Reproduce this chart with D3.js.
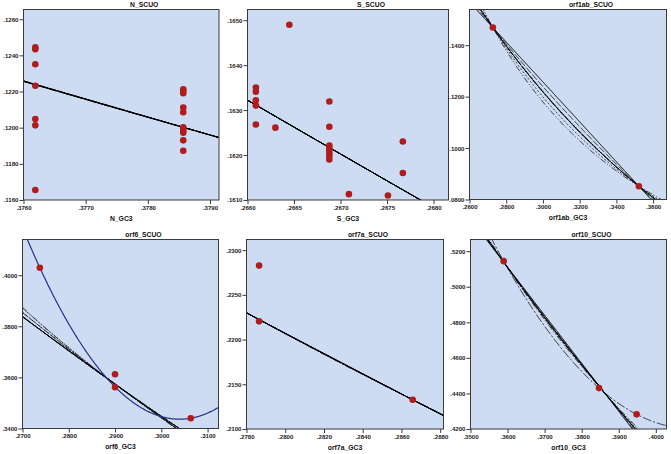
<!DOCTYPE html>
<html><head><meta charset="utf-8">
<script src="https://cdn.jsdelivr.net/npm/d3@7"></script>
<style>body{margin:0;background:#fff}svg{display:block}</style>
</head><body><svg id="c" width="671" height="454"></svg>
<script>
// ---------------- data (n = number of coinciding cases) ----------------
const N_GC3   = [.37619,.37619,.37619,.37619,.37619,.37619,.37619,
                 .37857,.37857,.37857,.37857,.37857,.37857,.37857,.37857,.37857,.37857,.37857];
const N_SCUO  = [.12444,.12434,.12351,.12232,.12048,.12013,.11655,
                 .12212,.12204,.12191,.12112,.12085,.12002,.11992,.11981,.11972,.11930,.11872];
const N_n     = [2,2,2,2,1,1,1, 1,1,1,1,1,3,3,3,3,3,3];

const S_GC3   = [.26609,.26609,.26609,.26609,.26609,.26630,.26645,
                 .26688,.26688,.26688,.26688,.26688,.26688,.26688,.26688,
                 .26709,.26751,.26767,.26767];
const S_SCUO  = [.16350,.16341,.16322,.16310,.16268,.16261,.16490,
                 .16319,.16263,.16221,.16215,.16210,.16204,.16198,.16190,
                 .16113,.16110,.16230,.16160];
const S_n     = [1,1,1,1,4,1,1, 1,1,1,1,1,1,1,1, 3,3,1,1];

const orf1ab_GC3  = [.27272,.35223];
const orf1ab_SCUO = [.14688,.08517];
const orf1ab_n    = [1,1];

const orf6_GC3  = [.27375,.29000,.29000,.30636];
const orf6_SCUO = [.40290,.36125,.35616,.34403];
const orf6_n    = [1,1,40,3];

const orf7a_GC3  = [.27865,.27865,.28658];
const orf7a_SCUO = [.22827,.22204,.21327];
const orf7a_n    = [1,30,1];

const orf10_GC3  = [.35895,.38468,.39481];
const orf10_SCUO = [.51439,.44300,.42825];
const orf10_n    = [8,12,1];

// axis ticks
const N_xTicks = [.376,.377,.378,.379],            N_yTicks = [.116,.118,.120,.122,.124,.126];
const S_xTicks = [.266,.2665,.267,.2675,.268],      S_yTicks = [.161,.162,.163,.164,.165];
const orf1ab_xTicks = [.26,.28,.30,.32,.34,.36],    orf1ab_yTicks = [.08,.10,.12,.14];
const orf6_xTicks = [.27,.28,.29,.30,.31],          orf6_yTicks = [.34,.36,.38,.40];
const orf7a_xTicks = [.278,.280,.282,.284,.286,.288], orf7a_yTicks = [.21,.215,.22,.225,.23];
const orf10_xTicks = [.35,.36,.37,.38,.39,.40],     orf10_yTicks = [.42,.44,.46,.48,.50,.52];

// curve-estimation models drawn
const simpleModels = ["linear","logarithmic","inverse","compound","power","s","growth","exponential","logistic"];

// ---------------- layout ----------------
const panels = [
 {title:"N_SCUO", xlab:"N_GC3", x:N_GC3, y:N_SCUO, n:N_n, xt:N_xTicks, yt:N_yTicks,
  xDom:[.376,.379145], yDom:[.116,.126536], box:[23.5,9.5,219,200], models:simpleModels},
 {title:"S_SCUO", xlab:"S_GC3", x:S_GC3, y:S_SCUO, n:S_n, xt:S_xTicks, yt:S_yTicks,
  xDom:[.266,.268161], yDom:[.161,.165238], box:[247.5,9.5,448.5,200], models:simpleModels},
 {title:"orf1ab_SCUO", xlab:"orf1ab_GC3", x:orf1ab_GC3, y:orf1ab_SCUO, n:orf1ab_n, xt:orf1ab_xTicks, yt:orf1ab_yTicks,
  xDom:[.26,.36728], yDom:[.08,.15388], box:[469.5,9.5,666.5,199.5], models:simpleModels},
 {title:"orf6_SCUO", xlab:"orf6_GC3", x:orf6_GC3, y:orf6_SCUO, n:orf6_n, xt:orf6_xTicks, yt:orf6_yTicks,
  xDom:[.27,.31236], yDom:[.34,.41397], box:[22.5,239.5,218.5,428.5], models:simpleModels.concat(["quadratic"]),
  quadStyle:{stroke:"#26338a", width:1.2, dash:null}},
 {title:"orf7a_SCUO", xlab:"orf7a_GC3", x:orf7a_GC3, y:orf7a_SCUO, n:orf7a_n, xt:orf7a_xTicks, yt:orf7a_yTicks,
  xDom:[.278,.28817], yDom:[.21,.23119], box:[246.5,239.5,443.5,429], models:simpleModels},
 {title:"orf10_SCUO", xlab:"orf10_GC3", x:orf10_GC3, y:orf10_SCUO, n:orf10_n, xt:orf10_xTicks, yt:orf10_yTicks,
  xDom:[.35,.40288], yDom:[.42,.52656], box:[470.5,239.5,666.5,429], models:simpleModels.concat(["quadratic"])}
];

const modelStyle = {
  linear:{dash:null, width:1},
  logarithmic:{dash:"7,2", width:0.8},
  inverse:{dash:"1.5,1.5", width:0.8},
  quadratic:{dash:"9,2,2,2", width:0.8},
  compound:{dash:"4,2", width:0.8},
  power:{dash:"2,2", width:0.8},
  s:{dash:"6,2,1,2,1,2", width:0.8},
  growth:{dash:"3,1.5", width:0.8},
  exponential:{dash:"10,3", width:0.8},
  logistic:{dash:"1,1", width:0.8}
};

// ---------------- fitting ----------------
function wls(X, Y, W){
  let sw=0, sx=0, sy=0;
  X.forEach((x,i)=>{sw+=W[i]; sx+=W[i]*x; sy+=W[i]*Y[i];});
  const mx=sx/sw, my=sy/sw;
  let sxx=0, sxy=0;
  X.forEach((x,i)=>{sxx+=W[i]*(x-mx)*(x-mx); sxy+=W[i]*(x-mx)*(Y[i]-my);});
  const b1=sxy/sxx; return [my-b1*mx, b1];
}
function quadFit(X, Y, W){
  const M=[[0,0,0,0],[0,0,0,0],[0,0,0,0]];
  X.forEach((x,i)=>{
    const v=[1,x,x*x];
    for(let r=0;r<3;r++){ for(let c=0;c<3;c++) M[r][c]+=W[i]*v[r]*v[c]; M[r][3]+=W[i]*v[r]*Y[i]; }
  });
  for(let p=0;p<3;p++){
    let mr=p; for(let r=p+1;r<3;r++) if(Math.abs(M[r][p])>Math.abs(M[mr][p])) mr=r;
    [M[p],M[mr]]=[M[mr],M[p]];
    for(let r=0;r<3;r++){ if(r===p) continue; const f=M[r][p]/M[p][p]; for(let c=p;c<4;c++) M[r][c]-=f*M[p][c]; }
  }
  return [M[0][3]/M[0][0], M[1][3]/M[1][1], M[2][3]/M[2][2]];
}
function model(name, X, Y, W){
  const ln=Math.log;
  switch(name){
    case "linear": { const b=wls(X,Y,W); return x=>b[0]+b[1]*x; }
    case "logarithmic": { const b=wls(X.map(ln),Y,W); return x=>b[0]+b[1]*ln(x); }
    case "inverse": { const b=wls(X.map(v=>1/v),Y,W); return x=>b[0]+b[1]/x; }
    case "compound": case "growth": case "exponential":
      { const b=wls(X,Y.map(ln),W); return x=>Math.exp(b[0]+b[1]*x); }
    case "logistic": { const b=wls(X,Y.map(v=>ln(1/v)),W); return x=>1/Math.exp(b[0]+b[1]*x); }
    case "power": { const b=wls(X.map(ln),Y.map(ln),W); return x=>Math.exp(b[0]+b[1]*ln(x)); }
    case "s": { const b=wls(X.map(v=>1/v),Y.map(ln),W); return x=>Math.exp(b[0]+b[1]/x); }
    case "quadratic": { const b=quadFit(X,Y,W); return x=>b[0]+b[1]*x+b[2]*x*x; }
  }
}

// ---------------- drawing ----------------
const svg = d3.select("#c");
const fmt = v => d3.format(".4f")(v).replace(/^0/,"");
const FONT = "'Liberation Sans', Arial, sans-serif";

panels.forEach((p, k) => {
  const [L,T,R,B] = p.box;
  const xs = d3.scaleLinear().domain(p.xDom).range([L,R]);
  const ys = d3.scaleLinear().domain(p.yDom).range([B,T]);
  const g = svg.append("g");

  g.append("rect").attr("x",L).attr("y",T).attr("width",R-L).attr("height",B-T)
    .attr("fill","#cddcf3");

  const cid = "clip"+k;
  svg.append("clipPath").attr("id",cid).append("rect")
    .attr("x",L).attr("y",T).attr("width",R-L).attr("height",B-T);

  // fitted curves
  const samples = d3.range(0,401).map(i => p.xDom[0] + (p.xDom[1]-p.xDom[0])*i/400);
  const cg = g.append("g").attr("clip-path",`url(#${cid})`);
  p.models.forEach(m => {
    const f = model(m, p.x, p.y, p.n);
    let st = modelStyle[m];
    let stroke = "#000";
    if (m === "quadratic" && p.quadStyle) { st = p.quadStyle; stroke = p.quadStyle.stroke; }
    const line = d3.line().x(d=>xs(d)).y(d=>ys(f(d))).defined(d=>isFinite(f(d)));
    cg.append("path").datum(samples).attr("d",line)
      .attr("fill","none").attr("stroke",stroke).attr("stroke-width",st.width)
      .attr("stroke-dasharray",st.dash);
  });

  // points (coinciding cases drawn once)
  const pts = p.x.map((x,i)=>[x,p.y[i]]);
  cg.selectAll("circle").data(pts).join("circle")
    .attr("cx",d=>xs(d[0])).attr("cy",d=>ys(d[1])).attr("r",3.3)
    .attr("fill","#b01c1c");

  // frame
  g.append("rect").attr("x",L).attr("y",T).attr("width",R-L).attr("height",B-T)
    .attr("fill","none").attr("stroke","#3a3a3a").attr("stroke-width",1);

  // axes
  const ax = g.append("g").attr("transform",`translate(0,${B})`)
    .call(d3.axisBottom(xs).tickValues(p.xt).tickFormat(fmt).tickSize(4).tickSizeOuter(0).tickPadding(1.5));
  const ay = g.append("g").attr("transform",`translate(${L},0)`)
    .call(d3.axisLeft(ys).tickValues(p.yt).tickFormat(fmt).tickSize(4).tickSizeOuter(0).tickPadding(1));
  [ax,ay].forEach(a=>{
    a.select(".domain").remove();
    a.selectAll("line").attr("stroke","#3a3a3a");
    a.selectAll("text").attr("font-family",FONT).attr("font-size",6.1).attr("font-weight","bold").attr("fill","#222");
  });

  // titles
  g.append("text").attr("x",(L+R)/2+23).attr("y",T-2.8).attr("text-anchor","middle")
    .attr("font-family",FONT).attr("font-size",6.8).attr("font-weight","bold").attr("fill","#111").text(p.title);
  g.append("text").attr("x",(L+R)/2).attr("y",B+20.6).attr("text-anchor","middle")
    .attr("font-family",FONT).attr("font-size",6.8).attr("font-weight","bold").attr("fill","#111").text(p.xlab);
});
</script>
</body></html>
